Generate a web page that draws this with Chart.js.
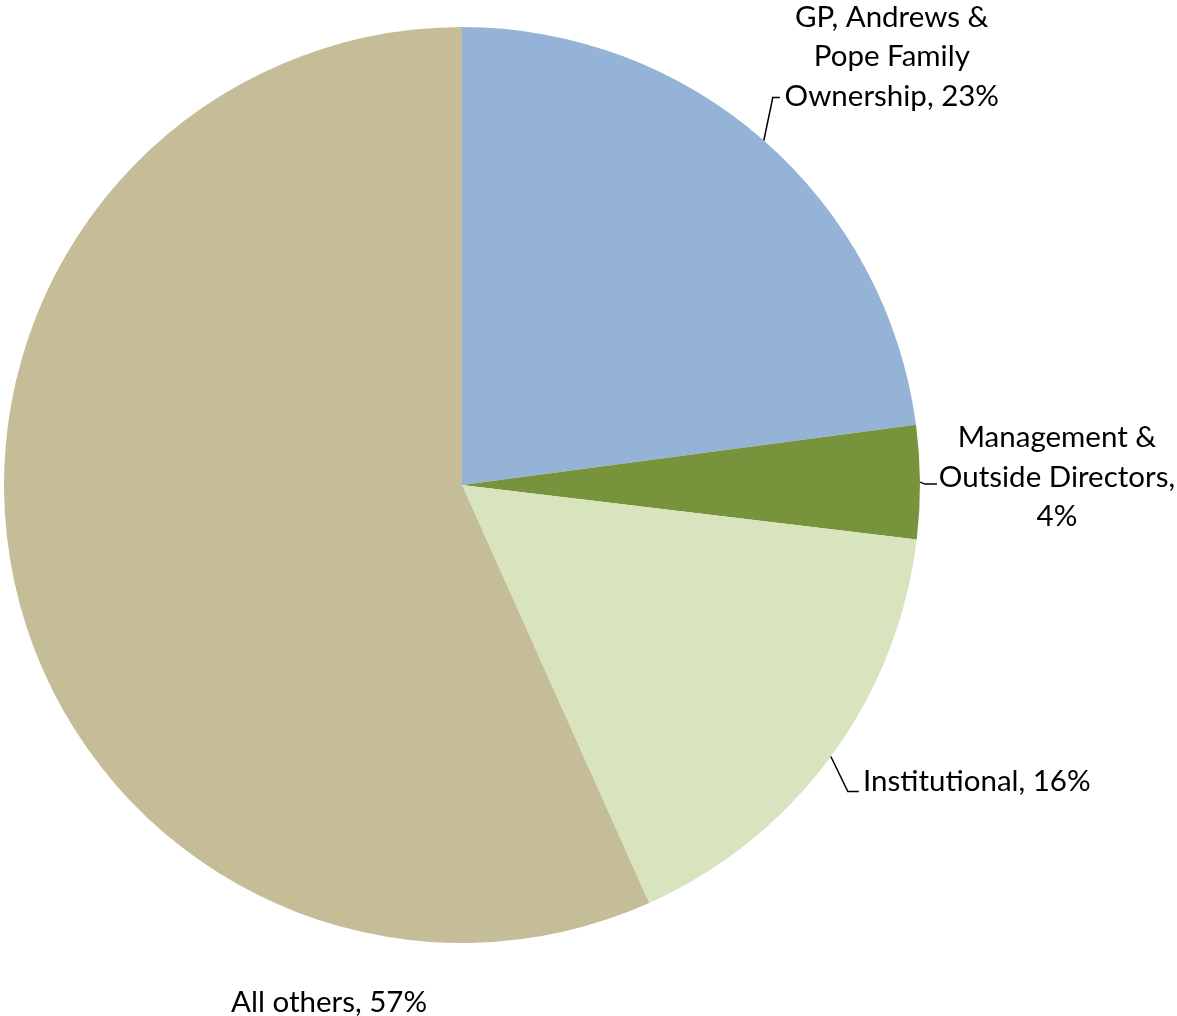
<!DOCTYPE html>
<html>
<head>
<meta charset="utf-8">
<script src="https://cdn.jsdelivr.net/npm/chart.js@4.4.0/dist/chart.umd.min.js"></script>
<style>
  html, body { margin: 0; padding: 0; background: #fff; }
  #wrap { width: 1177px; height: 1016px; }
</style>
</head>
<body>
<div id="wrap"><canvas id="chart"></canvas></div>
<script>
const categories = [
    ['GP, Andrews &', 'Pope Family', 'Ownership, 23%'],
    ['Management &', 'Outside Directors,', '4%'],
    ['Institutional, 16%'],
    ['All others, 57%']
];
const shares = [22.9, 4.0, 16.4, 56.7];
const colors = ['#95B3D7', '#77933C', '#D7E4BD', '#C4BD97'];

// label layout per slice: leader elbow / end relative to the slice edge point,
// text block centre relative to the edge point
const labelLayout = [
    { elbow: [9, -43], end: [16, -43], text: [128, -84] },
    { elbow: [5, 2], end: [17, 2], text: [137, -5] },
    { elbow: [17, 35], end: [28, 35], text: [146, 25] },
    { elbow: null, end: null, text: [315, 422] }
];

const labelPlugin = {
    id: 'outsideLabels',
    afterDatasetsDraw(chart) {
        const ctx = chart.ctx;
        const meta = chart.getDatasetMeta(0);
        ctx.save();
        ctx.font = '29.5px Lato, "Open Sans", sans-serif';
        ctx.fillStyle = '#000';
        ctx.strokeStyle = '#000';
        ctx.lineWidth = 1.5;
        ctx.textBaseline = 'middle';
        ctx.textAlign = 'center';
        meta.data.forEach((arc, i) => {
            const p = arc.getProps(['x', 'y', 'startAngle', 'endAngle', 'outerRadius'], true);
            const mid = (p.startAngle + p.endAngle) / 2;
            const ex = p.x + Math.cos(mid) * p.outerRadius;
            const ey = p.y + Math.sin(mid) * p.outerRadius;
            const L = labelLayout[i];
            if (L.elbow) {
                ctx.beginPath();
                ctx.moveTo(ex, ey);
                ctx.lineTo(ex + L.elbow[0], ey + L.elbow[1]);
                ctx.lineTo(ex + L.end[0], ey + L.end[1]);
                ctx.stroke();
            }
            const lines = categories[i];
            const lh = 39.5;
            const cx = ex + L.text[0];
            const cy = ey + L.text[1];
            lines.forEach((t, k) => {
                ctx.fillText(t, cx, cy + (k - (lines.length - 1) / 2) * lh);
            });
        });
        ctx.restore();
    }
};

document.addEventListener('DOMContentLoaded', () => {
    const config = {
        type: 'pie',
        data: {
            labels: categories.map(c => c.join(' ')),
            datasets: [{
                data: shares,
                backgroundColor: colors,
                borderWidth: 0
            }]
        },
        options: {
            responsive: true,
            maintainAspectRatio: false,
            animation: false,
            layout: {
                padding: { left: 4, right: 257, top: 27, bottom: 73 }
            },
            plugins: {
                legend: { display: false },
                tooltip: { enabled: false }
            }
        },
        plugins: [labelPlugin]
    };

    const ctx = document.getElementById('chart').getContext('2d');
    new Chart(ctx, config);
});
</script>
</body>
</html>
